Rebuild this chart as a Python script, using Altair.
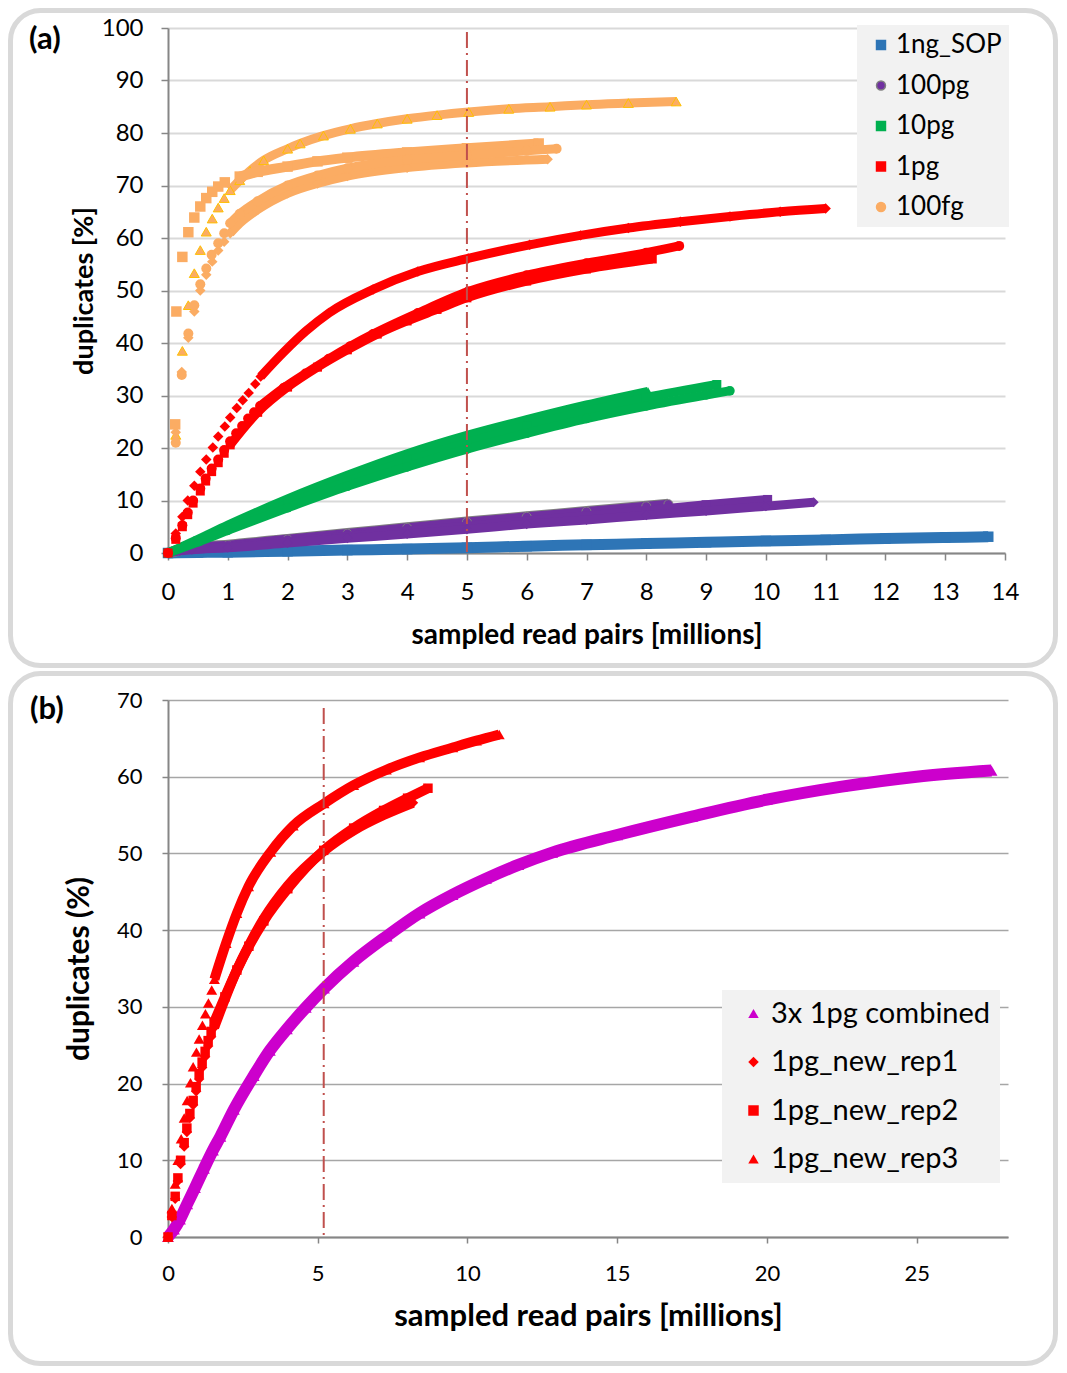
import altair as alt
import pandas as pd

FONT = "Lato"
AX_GRAY = "#868686"
CUT_COLOR = "#C0504D"
BORDER = "#D9D9D9"

# ======================= Panel (a) data =======================
A_GROUPS = ["1ng_SOP", "100pg", "10pg", "1pg", "100fg"]
A_GROUP_COLORS = ["#2E75B6", "#7030A0", "#00B050", "#FF0000", "#FBAC63"]
A_LEGEND_SHAPES = ["square", "circle", "square", "square", "circle"]
A_LEGEND_STROKES = ["#2E75B6", "#808080", "#00B050", "#FF0000", "#FBAC63"]
A_X_TICKS = list(range(0, 15))
A_Y_TICKS = list(range(0, 101, 10))
A_CUTOFF = [5.0]

# 1ng_SOP
sop_s_x = [0, 0.5, 1, 2, 3, 4, 5, 6, 7, 8, 9, 10, 11, 12, 13, 13.72]
sop_s_y = [0, 0.1, 0.15, 0.35, 0.55, 0.75, 1.0, 1.3, 1.55, 1.8, 2.05, 2.3, 2.5, 2.75, 2.95, 3.1]
# 100pg
pg100_c_x = [0, 0.2, 0.4, 1, 2, 3, 4, 5, 6, 7, 8, 8.37]
pg100_c_y = [0, 0.6, 1.0, 1.5, 2.6, 3.7, 4.8, 5.9, 6.9, 7.9, 8.9, 9.3]
pg100_s_x = [0, 0.2, 0.4, 1, 2, 3, 4, 5, 6, 7, 8, 9, 10.03]
pg100_s_y = [0, 0.5, 0.8, 1.3, 2.2, 3.2, 4.2, 5.1, 6.1, 7.1, 8.1, 9.2, 10.2]
pg100_d_x = [0, 0.2, 0.4, 1, 2, 3, 4, 5, 6, 7, 8, 9, 10, 10.8]
pg100_d_y = [0, 0.4, 0.6, 1.0, 1.9, 2.8, 3.6, 4.5, 5.5, 6.3, 7.2, 8.0, 8.9, 9.65]
# 10pg
pg10_t_x = [0, 0.5, 1, 2, 3, 4, 5, 6, 7, 8.03]
pg10_t_y = [0, 2.6, 5.3, 10.3, 14.8, 18.9, 22.4, 25.4, 28.2, 30.8]
pg10_s_x = [0, 0.5, 1, 2, 3, 4, 5, 6, 7, 8, 9.18]
pg10_s_y = [0, 2.3, 4.7, 9.3, 13.6, 17.5, 21.0, 24.2, 27.0, 29.6, 32.1]
pg10_c_x = [0, 0.5, 1, 2, 3, 4, 5, 6, 7, 8, 9, 9.4]
pg10_c_y = [0, 2.1, 4.3, 8.6, 12.7, 16.4, 19.8, 22.8, 25.6, 28.0, 30.1, 30.9]
# 1pg
pg1_s_x = [0, 0.13, 0.24, 0.33, 0.42, 0.54, 0.63, 0.73, 0.84, 0.94, 1.04, 1.5, 2, 2.5, 3, 3.5, 4, 4.5, 5, 6, 7, 8.1]
pg1_s_y = [0, 2.6, 5.0, 7.3, 9.5, 11.8, 13.7, 15.5, 17.2, 19.0, 20.6, 26.8, 31.6, 35.4, 38.7, 41.7, 44.2, 46.4, 48.6, 51.8, 54.1, 56.0]
pg1_c_x = [0, 0.13, 0.24, 0.33, 0.42, 0.54, 0.63, 0.73, 0.84, 0.94, 1.04, 1.14, 1.24, 1.34, 1.44, 1.54,
           1.94, 2.3, 2.69, 3.05, 3.43, 4.18, 5.02, 6.0, 7.0, 8.0, 8.55]
pg1_c_y = [0, 2.8, 5.3, 7.7, 10.0, 12.3, 14.2, 16.1, 17.8, 19.6, 21.3, 22.8, 24.2, 25.6, 26.8, 28.0,
           31.5, 34.2, 37.0, 39.4, 41.7, 45.7, 49.8, 52.9, 55.2, 57.2, 58.5]
pg1_d_x = [0, 0.13, 0.24, 0.33, 0.44, 0.54, 0.64, 0.75, 0.84, 0.95, 1.04, 1.15, 1.25, 1.35, 1.46, 1.55,
           1.94, 2.3, 2.69, 3.43, 4.18, 5.02, 6.05, 6.9, 7.7, 8.57, 9.4, 10.24, 11.0]
pg1_d_y = [0, 3.7, 6.9, 10.0, 12.8, 15.5, 17.8, 20.1, 22.2, 24.1, 25.8, 27.6, 29.1, 30.5, 32.2, 33.6,
           38.3, 42.2, 45.7, 50.2, 53.6, 56.1, 58.7, 60.5, 61.9, 63.1, 64.1, 65.0, 65.6]
# 100fg
fg100_t_x = [0.13, 0.24, 0.34, 0.44, 0.54, 0.64, 0.74, 0.84, 0.94, 1.04, 1.2, 1.37, 1.6, 2.0, 2.21, 2.6,
             3.05, 3.5, 4.0, 4.5, 5.03, 5.7, 6.39, 7.0, 7.7, 8.5]
fg100_t_y = [22.5, 38.5, 47.2, 53.3, 57.7, 61.2, 63.7, 65.8, 67.6, 69.1, 71.0, 72.8, 74.8, 77.0, 78.0, 79.5,
             80.8, 81.8, 82.7, 83.4, 84.0, 84.6, 85.0, 85.4, 85.7, 86.0]
fg100_s_x = [0.12, 0.14, 0.24, 0.34, 0.44, 0.54, 0.64, 0.74, 0.84, 0.95, 1.2, 1.5, 2.0, 2.5, 3.0, 4.0, 5.0, 6.2]
fg100_s_y = [24.5, 46.0, 56.4, 61.1, 63.9, 66.0, 67.6, 68.8, 69.8, 70.6, 71.7, 72.6, 73.6, 74.6, 75.3, 76.3, 77.1, 78.0]
fg100_d_x = [0.13, 0.23, 0.34, 0.44, 0.54, 0.64, 0.74, 0.84, 0.94, 1.04, 1.2, 1.5, 2, 2.5, 3, 4, 5, 6.35]
fg100_d_y = [23.0, 34.5, 41.0, 46.0, 50.0, 53.0, 55.5, 57.6, 59.3, 60.9, 62.8, 65.4, 68.5, 70.4, 71.8, 73.4, 74.3, 75.0]
fg100_c_x = [0.13, 0.23, 0.34, 0.44, 0.54, 0.64, 0.73, 0.84, 0.94, 1.04, 1.2, 1.5, 2, 2.5, 3, 4, 5, 6, 6.5]
fg100_c_y = [21.0, 33.9, 41.8, 47.2, 51.2, 54.2, 56.8, 59.0, 60.9, 62.8, 64.6, 67.0, 70.0, 71.9, 73.3, 74.9, 75.8, 76.6, 77.0]

# ======================= Panel (b) data =======================
B_GROUPS = ["3x 1pg combined", "1pg_new_rep1", "1pg_new_rep2", "1pg_new_rep3"]
B_GROUP_COLORS = ["#CC00CC", "#FF0000", "#FF0000", "#FF0000"]
B_LEGEND_SHAPES = ["triangle-up", "diamond", "square", "triangle-up"]
B_X_TICKS = [0, 5, 10, 15, 20, 25]
B_Y_TICKS = list(range(0, 71, 10))
B_CUTOFF = [5.2]

comb_x = [0, 0.2, 0.4, 0.64, 0.9, 1.2, 1.5, 1.75, 2.2, 2.86, 3.4, 3.97, 4.6, 5.21, 6.19, 7.3, 8.4, 9.5,
          10.62, 11.7, 12.83, 15, 17.5, 20, 22.5, 25, 27.5]
comb_y = [0, 1.0, 2.3, 4.3, 6.4, 8.9, 11.3, 13.1, 16.6, 21.0, 24.3, 27.1, 29.9, 32.4, 35.9, 39.2, 42.2, 44.6,
          46.7, 48.5, 50.1, 52.4, 54.8, 57.0, 58.7, 60.0, 60.8]
rep1_x = [0, 0.13, 0.24, 0.33, 0.42, 0.54, 0.63, 0.73, 0.84, 0.94, 1.04, 1.14, 1.24, 1.34, 1.44, 1.54,
          1.9, 2.3, 2.7, 3.2, 4.0, 5.2, 6.2, 7.2, 8.18]
rep1_y = [0, 2.6, 5.0, 7.3, 9.5, 11.8, 13.7, 15.5, 17.2, 19.0, 20.6, 22.1, 23.5, 24.9, 26.1, 27.3,
          31.0, 34.8, 38.0, 41.5, 45.8, 50.3, 53.0, 55.0, 56.6]
rep2_x = [0, 0.13, 0.24, 0.33, 0.42, 0.54, 0.63, 0.73, 0.84, 0.94, 1.04, 1.14, 1.24, 1.34, 1.44, 1.54,
          1.9, 2.3, 2.7, 3.2, 4.0, 5.2, 6.2, 7.2, 8.0, 8.68]
rep2_y = [0, 2.8, 5.3, 7.7, 10.0, 12.3, 14.2, 16.1, 17.8, 19.6, 21.3, 22.8, 24.2, 25.6, 26.8, 28.0,
          31.3, 34.8, 37.9, 41.2, 45.4, 50.4, 53.3, 55.6, 57.2, 58.5]
rep3_x = [0, 0.13, 0.24, 0.33, 0.44, 0.54, 0.64, 0.75, 0.84, 0.95, 1.04, 1.15, 1.25, 1.35, 1.46, 1.55,
          1.94, 2.3, 2.69, 3.43, 4.18, 5.21, 6.2, 7.29, 8.4, 9.51, 10.3, 11.06]
rep3_y = [0, 3.7, 6.9, 10.0, 12.8, 15.5, 17.8, 20.1, 22.2, 24.1, 25.8, 27.6, 29.1, 30.5, 32.2, 33.6,
          38.3, 42.2, 45.7, 50.2, 53.6, 56.5, 58.9, 60.9, 62.5, 63.8, 64.7, 65.5]

# ---- series styles: (x, y, colour, shape, marker size, band width, band starts at x, marker outline, band edge)
A_SERIES = [
    (sop_s_x, sop_s_y, "#2E75B6", "square", 110, 11, 0, None, None),
    (pg100_c_x, pg100_c_y, "#7030A0", "circle", 81, 9, 0, "#808080", "#808080"),
    (pg100_s_x, pg100_s_y, "#7030A0", "square", 81, 9, 0, None, None),
    (pg100_d_x, pg100_d_y, "#7030A0", "diamond", 100, 9, 0, None, None),
    (pg10_t_x, pg10_t_y, "#00B050", "triangle-up", 90, 9, 0, None, None),
    (pg10_s_x, pg10_s_y, "#00B050", "square", 81, 9, 0, None, None),
    (pg10_c_x, pg10_c_y, "#00B050", "circle", 90, 9, 0, None, None),
    (pg1_s_x, pg1_s_y, "#FF0000", "square", 81, 9, 1.0, None, None),
    (pg1_c_x, pg1_c_y, "#FF0000", "circle", 100, 9, 1.5, None, None),
    (pg1_d_x, pg1_d_y, "#FF0000", "diamond", 110, 9, 1.5, None, None),
    (fg100_t_x, fg100_t_y, "#FBAC63", "triangle-up", 100, 9, 1.0, "#FFC000", None),
    (fg100_s_x, fg100_s_y, "#FBAC63", "square", 110, 10, 1.0, None, None),
    (fg100_d_x, fg100_d_y, "#FBAC63", "diamond", 110, 9, 1.0, None, None),
    (fg100_c_x, fg100_c_y, "#FBAC63", "circle", 100, 9, 1.0, None, None),
]
B_SERIES = [
    (comb_x, comb_y, "#CC00CC", "triangle-up", 140, 12, 0, None, None),
    (rep1_x, rep1_y, "#FF0000", "diamond", 110, 10, 1.5, None, None),
    (rep2_x, rep2_y, "#FF0000", "square", 90, 10, 1.5, None, None),
    (rep3_x, rep3_y, "#FF0000", "triangle-up", 120, 10, 1.5, None, None),
]


def series_layers(spec, X, Y):
    xs, ys, color, shape, size, lw, line_from, outline, edge = spec
    base = alt.Chart(pd.DataFrame({"x": xs, "y": ys}))
    band = base.transform_filter(alt.datum.x >= line_from)
    out = []
    if edge:
        out.append(band.mark_line(color=edge, strokeWidth=lw + 2, interpolate="monotone").encode(x=X, y=Y))
    out.append(band.mark_line(color=color, strokeWidth=lw, interpolate="monotone").encode(x=X, y=Y))
    kw = dict(shape=shape, size=size, filled=True, color=color, opacity=1)
    if outline:
        kw.update(stroke=outline, strokeWidth=1)
    out.append(base.mark_point(**kw).encode(x=X, y=Y))
    return out


def panel(series, X, Y, cutoff, rule_top, height, border, tag, tag_pos, legend_layer):
    x1, x2, y1, y2 = border
    frame = alt.Chart(pd.DataFrame({"k": [0]})).mark_rect(
        fillOpacity=0, stroke=BORDER, strokeWidth=5, cornerRadius=30, clip=False
    ).encode(x=alt.value(x1), x2=alt.value(x2), y=alt.value(y1), y2=alt.value(y2))
    layers = [frame]
    for s in series:
        layers += series_layers(s, X, Y)
    rule = alt.Chart(pd.DataFrame({"x": cutoff})).mark_rule(
        color=CUT_COLOR, strokeWidth=2, strokeDash=[16, 5, 2, 5]
    ).encode(x=X, y=alt.value(rule_top), y2=alt.value(height))
    label = alt.Chart(pd.DataFrame({"t": [tag]})).mark_text(
        font=FONT, fontSize=31, fontWeight="bold", align="left", baseline="middle", color="black"
    ).encode(x=alt.value(tag_pos[0]), y=alt.value(tag_pos[1]), text="t:N")
    layers += [rule, label, legend_layer]
    return alt.layer(*layers)


def common_axis(**kw):
    base = dict(
        tickColor=AX_GRAY, tickWidth=1.5, domainColor=AX_GRAY, domainWidth=2,
        labelFont=FONT, labelColor="black", titleFont=FONT, titleColor="black",
        titleFontWeight="bold", labelFlush=False,
    )
    base.update(kw)
    return alt.Axis(**base)


# ---------------- Panel (a) ----------------
A_W, A_H = 837, 525
XA = alt.X("x:Q", scale=alt.Scale(domain=[0, 14], nice=False, zero=False),
           title="sampled  read pairs [millions]",
           axis=common_axis(values=A_X_TICKS, grid=False, tickSize=7, labelFontSize=24,
                            labelPadding=20, titleFontSize=28, titlePadding=17))
YA = alt.Y("y:Q", scale=alt.Scale(domain=[0, 100], nice=False),
           title="duplicates [%]",
           axis=common_axis(values=A_Y_TICKS, grid=True, gridColor="#D9D9D9", gridWidth=2,
                            tickSize=7, labelFontSize=24, labelPadding=18, titleFontSize=27,
                            titlePadding=3))

legA = dict(title=None, orient="none", legendX=689, legendY=-3, fillColor="#F2F2F2",
            padding=7, rowPadding=14.5, labelFont=FONT, labelFontSize=26, labelColor="black",
            symbolSize=80, symbolOffset=4, labelOffset=2, symbolStrokeWidth=1.5,
            symbolOpacity=1, labelLimit=400)
legend_a = alt.Chart(pd.DataFrame({"group_a": A_GROUPS})).mark_point(filled=True, opacity=0).encode(
    x=alt.value(0), y=alt.value(0),
    fill=alt.Fill("group_a:N", scale=alt.Scale(domain=A_GROUPS, range=A_GROUP_COLORS), legend=alt.Legend(**legA)),
    shape=alt.Shape("group_a:N", scale=alt.Scale(domain=A_GROUPS, range=A_LEGEND_SHAPES), legend=alt.Legend(**legA)),
    stroke=alt.Stroke("group_a:N", scale=alt.Scale(domain=A_GROUPS, range=A_LEGEND_STROKES), legend=alt.Legend(**legA)),
)

chart_a = panel(A_SERIES, XA, YA, A_CUTOFF, 4, A_H,
                (-157.5, A_W + 50.5, -17.5, A_H + 112.5), "(a)", (-139, 12), legend_a
                ).properties(width=A_W, height=A_H)

# ---------------- Panel (b) ----------------
B_W, B_H = 840, 537
XB = alt.X("x:Q", scale=alt.Scale(domain=[0, 28.05], nice=False, zero=False),
           title="sampled  read pairs [millions]",
           axis=common_axis(values=B_X_TICKS, grid=False, tickSize=6, labelFontSize=22,
                            labelPadding=20, titleFontSize=31, titlePadding=17))
YB = alt.Y("y:Q", scale=alt.Scale(domain=[0, 70], nice=False),
           title="duplicates (%)",
           axis=common_axis(values=B_Y_TICKS, grid=True, gridColor="#A6A6A6", gridWidth=1.5,
                            tickSize=6, labelFontSize=22, labelPadding=20, titleFontSize=30,
                            titlePadding=22))

legB = dict(title=None, orient="none", legendX=554, legendY=290, fillColor="#F2F2F2",
            padding=9, rowPadding=18.5, labelFont=FONT, labelFontSize=29, labelColor="black",
            symbolSize=110, symbolOffset=8, labelOffset=3, symbolStrokeWidth=0,
            symbolOpacity=1, labelLimit=400)
legend_b = alt.Chart(pd.DataFrame({"group_b": B_GROUPS})).mark_point(filled=True, opacity=0).encode(
    x=alt.value(0), y=alt.value(0),
    fill=alt.Fill("group_b:N", scale=alt.Scale(domain=B_GROUPS, range=B_GROUP_COLORS), legend=alt.Legend(**legB)),
    shape=alt.Shape("group_b:N", scale=alt.Scale(domain=B_GROUPS, range=B_LEGEND_SHAPES), legend=alt.Legend(**legB)),
)

chart_b = panel(B_SERIES, XB, YB, B_CUTOFF, 8, B_H,
                (-157.5, B_W + 47.5, -26.5, B_H + 126.5), "(b)", (-138, 10), legend_b
                ).properties(width=B_W, height=B_H)

chart = (
    alt.vconcat(chart_a, chart_b, spacing=3)
    .resolve_scale(fill="independent", shape="independent", stroke="independent")
    .resolve_legend(fill="independent", shape="independent", stroke="independent")
    .properties(padding=0)
    .configure_view(strokeWidth=0)
)

chart.save("out.html", embed_options={"renderer": "svg", "actions": False})
